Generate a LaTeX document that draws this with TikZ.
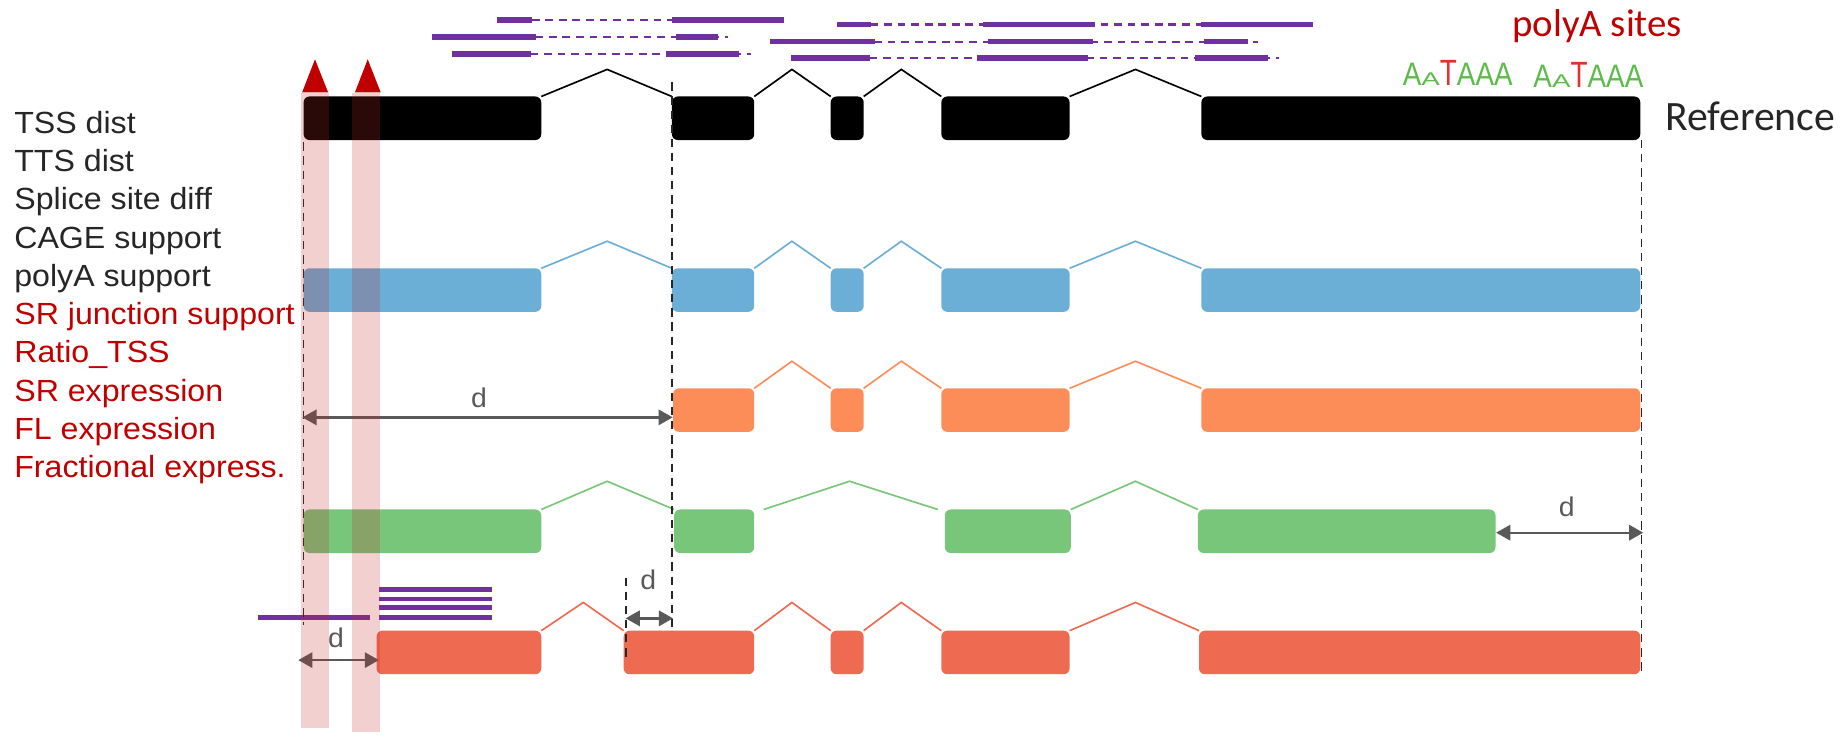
\documentclass[tikz,border=0pt]{standalone}
\usepackage{fontspec}
\setmainfont{Liberation Sans}[FakeStretch=1.05]
\newfontfamily\calibri{Carlito}
\usetikzlibrary{arrows.meta}

\definecolor{txtdark}{HTML}{262626}
\definecolor{txtred}{HTML}{C00000}
\definecolor{exblue}{HTML}{6BAED6}
\definecolor{exorange}{HTML}{FC8D59}
\definecolor{exgreen}{HTML}{78C679}
\definecolor{excoral}{HTML}{EE6A50}
\definecolor{readpurple}{HTML}{7030A0}
\definecolor{arrgray}{HTML}{595959}
\definecolor{bandred}{RGB}{195,41,41}
\definecolor{logogreen}{HTML}{5CBB4A}
\definecolor{logored}{HTML}{E3312B}

% exon box: name, left x, right x, top y, style
\newcommand\exonbox[5]{%
  \node[exon,#5,minimum width={(#3-#2)*1pt},anchor=north west] (#1) at (#2,#4) {};}

% one polyA motif logo
\newcommand\motif{%
  \fontsize{23}{23}\selectfont\color{logogreen}%
  \scalebox{0.98}[1.2]{A}\scalebox{0.98}[0.68]{A}%
  {\color{logored}\scalebox{0.98}[1.35]{T}}\scalebox{0.98}[1.2]{AAA}}

\begin{document}
\begin{tikzpicture}[x=1pt,y=-1pt,
  exon/.style={inner sep=0pt,outer sep=0pt,minimum height=37pt,rounded corners=5pt,draw=none},
  intron/.style={line width=1.4pt},
  guide/.style={draw=txtdark,line width=1.3pt,dash pattern=on 7pt off 5pt},
  dist/.style={draw=arrgray,line width=2pt,
    {Triangle[length=12pt,width=13pt]}-{Triangle[length=12pt,width=13pt]}},
  dlabel/.style={text=arrgray,font=\fontsize{23}{23}\selectfont},
  lab/.style={anchor=base west,inner sep=0pt,font=\fontsize{26}{30}\selectfont},
  rd/.style={draw=readpurple,line width=4.5pt},
  rdgap/.style={draw=readpurple,line width=2pt,dash pattern=on 6.5pt off 5pt},
  band/.style={fill=bandred,fill opacity=0.22,draw=none},
  tssmark/.style={fill=txtred,draw=none}]

\useasboundingbox (0,0) rectangle (1568,626);

% ---- feature labels ----
\node[lab,text=txtdark] (l1) at (12,113.3) {TSS dist};
\node[lab,text=txtdark] (l2) at (12,145.8) {TTS dist};
\node[lab,text=txtdark] (l3) at (12,178.3) {Splice site diff};
\node[lab,text=txtdark] (l4) at (12,210.8) {CAGE support};
\node[lab,text=txtdark] (l5) at (12,243.3) {polyA support};
\node[lab,text=txtred] (l6) at (12,275.8) {SR junction support};
\node[lab,text=txtred] (l7) at (12,308.3) {Ratio\_TSS};
\node[lab,text=txtred] (l8) at (12,340.8) {SR expression};
\node[lab,text=txtred] (l9) at (12,373.3) {FL expression};
\node[lab,text=txtred] (l10) at (12,405.8) {Fractional express.};

% ---- reference model ----
\exonbox{r1}{258}{460}{82}{fill=black}
\exonbox{r2}{571}{641}{82}{fill=black}
\exonbox{r3}{706}{734}{82}{fill=black}
\exonbox{r4}{800}{909}{82}{fill=black}
\exonbox{r5}{1021}{1394}{82}{fill=black}
\draw[intron,black] (r1.north east) -- (516,59) -- (r2.north west);
\draw[intron,black] (r2.north east) -- (673,59) -- (r3.north west);
\draw[intron,black] (r3.north east) -- (766,59) -- (r4.north west);
\draw[intron,black] (r4.north east) -- (965,59) -- (r5.north west);
\node[anchor=base west,inner sep=0pt,text=txtdark,font=\calibri\fontsize{35.5}{36}\selectfont]
  (reflab) at (1415,110.5) {Reference};

% ---- polyA sites ----
\node[anchor=base west,inner sep=0pt,text=txtred,font=\calibri\fontsize{33}{34}\selectfont]
  (palab) at (1285,31) {polyA sites};
\node[anchor=base west,inner sep=0pt] (pa1) at (1192,73) {\motif};
\node[anchor=base west,inner sep=0pt] (pa2) at (1303,74) {\motif};

% ---- short reads over the junctions ----
\draw[rdgap] (452,17) -- (571,17);
\draw[rd] (422.4,17) -- (452.1,17);  \draw[rd] (571.1,17) -- (666.3,17);
\draw[rdgap] (455,31.4) -- (619,31.4);
\draw[rd] (367.1,31.4) -- (455.5,31.4); \draw[rd] (574.5,31.4) -- (610.2,31.4);
\draw[rdgap] (451,45.9) -- (638,45.9);
\draw[rd] (384.1,45.9) -- (451.3,45.9); \draw[rd] (566,45.9) -- (628,45.9);
\draw[rdgap] (740,20.8) -- (1021,20.8);
\draw[rd] (711.3,20.8) -- (740.2,20.8); \draw[rd] (835.4,20.8) -- (930.6,20.8);
\draw[rd] (1020.7,20.8) -- (1115.8,20.8);
\draw[rdgap] (743,35.5) -- (1069,35.5);
\draw[rd] (654.4,35.5) -- (743.6,35.5); \draw[rd] (839.6,35.5) -- (928.9,35.5);
\draw[rd] (1023.2,35.5) -- (1060.6,35.5);
\draw[rdgap] (739,49.3) -- (1087,49.3);
\draw[rd] (672.2,49.3) -- (739.4,49.3); \draw[rd] (830.3,49.3) -- (924.7,49.3);
\draw[rd] (1015.6,49.3) -- (1077.6,49.3);

% ---- transcript 1: full match ----
\exonbox{b1}{258}{460}{228}{fill=exblue}
\exonbox{b2}{571}{641}{228}{fill=exblue}
\exonbox{b3}{706}{734}{228}{fill=exblue}
\exonbox{b4}{800}{909}{228}{fill=exblue}
\exonbox{b5}{1021}{1394}{228}{fill=exblue}
\draw[intron,exblue] (b1.north east) -- (516,205) -- (b2.north west);
\draw[intron,exblue] (b2.north east) -- (673,205) -- (b3.north west);
\draw[intron,exblue] (b3.north east) -- (766,205) -- (b4.north west);
\draw[intron,exblue] (b4.north east) -- (965,205) -- (b5.north west);

% ---- transcript 2: later start ----
\exonbox{o2}{572}{641}{330}{fill=exorange}
\exonbox{o3}{706}{734}{330}{fill=exorange}
\exonbox{o4}{800}{909}{330}{fill=exorange}
\exonbox{o5}{1021}{1394}{330}{fill=exorange}
\draw[intron,exorange] (o2.north east) -- (673,307) -- (o3.north west);
\draw[intron,exorange] (o3.north east) -- (766,307) -- (o4.north west);
\draw[intron,exorange] (o4.north east) -- (965,307) -- (o5.north west);

% ---- transcript 3: skipped exon, early end ----
\exonbox{g1}{258}{460}{433}{fill=exgreen}
\exonbox{g2}{573}{641}{433}{fill=exgreen}
\exonbox{g4}{803}{910}{433}{fill=exgreen}
\exonbox{g5}{1018}{1271}{433}{fill=exgreen}
\draw[intron,exgreen] (g1.north east) -- (516,409) -- (g2.north west);
\draw[intron,exgreen] ([xshift=8pt]g2.north east) -- (722,409) -- ([xshift=-6pt]g4.north west);
\draw[intron,exgreen] (g4.north east) -- (965,409) -- (g5.north west);

% ---- transcript 4: shifted start and splice site ----
\exonbox{c1}{320}{460}{536}{fill=excoral}
\exonbox{c2}{530}{641}{536}{fill=excoral}
\exonbox{c3}{706}{734}{536}{fill=excoral}
\exonbox{c4}{800}{909}{536}{fill=excoral}
\exonbox{c5}{1019}{1394}{536}{fill=excoral}
\draw[intron,excoral] (c1.north east) -- (495.7,512) -- (c2.north west);
\draw[intron,excoral] (c2.north east) -- (673,512) -- (c3.north west);
\draw[intron,excoral] (c3.north east) -- (766,512) -- (c4.north west);
\draw[intron,excoral] (c4.north east) -- (965,512) -- (c5.north west);

% reads around the shifted start
\draw[draw=readpurple,line width=4pt] (219,525) -- (314.5,525);
\foreach \yy in {501,509,516,525}
  \draw[draw=readpurple,line width=4pt] (322,\yy) -- (418,\yy);

% ---- guide lines ----
\coordinate (gl1a) at (258,121);   \coordinate (gl1b) at (258,531);
\coordinate (gl2a) at (571,70);    \coordinate (gl2b) at (571,537);
\coordinate (gl3a) at (532,491);   \coordinate (gl3b) at (532,558);
\coordinate (gl4a) at (1395,119);  \coordinate (gl4b) at (1395,572);
\draw[guide] (gl1a) -- (gl1b);
\draw[guide] (gl2a) -- (gl2b);
\draw[guide] (gl3a) -- (gl3b);
\draw[guide] (gl4a) -- (gl4b);

% ---- distances ----
\coordinate (da1) at (257,354.7);  \coordinate (da2) at (571.7,354.7);
\draw[dist] (da1) -- (da2);
\node[dlabel] (dl1) at (407,338) {d};
\coordinate (db1) at (1271.5,452.7); \coordinate (db2) at (1396.5,452.7);
\draw[dist] (db1) -- (db2);
\node[dlabel] (dl2) at (1331.5,431) {d};
\coordinate (dc1) at (531.7,525.5); \coordinate (dc2) at (572,525.5);
\draw[dist] (dc1) -- (dc2);
\node[dlabel] (dl3) at (551,493) {d};
\coordinate (dd1) at (253.5,561); \coordinate (dd2) at (322,561);
\draw[dist] (dd1) -- (dd2);
\node[dlabel] (dl4) at (285.6,542) {d};

% ---- CAGE peaks ----
\fill[band] (256,79) rectangle (279.8,619);
\fill[band] (299.3,79) rectangle (323,622);
\fill[tssmark] (256.8,78.4) -- (267.7,50.4) -- (278.8,78.4) -- cycle;
\fill[tssmark] (301.7,78.4) -- (312.5,50.4) -- (323.5,78.4) -- cycle;

\end{tikzpicture}
\end{document}
